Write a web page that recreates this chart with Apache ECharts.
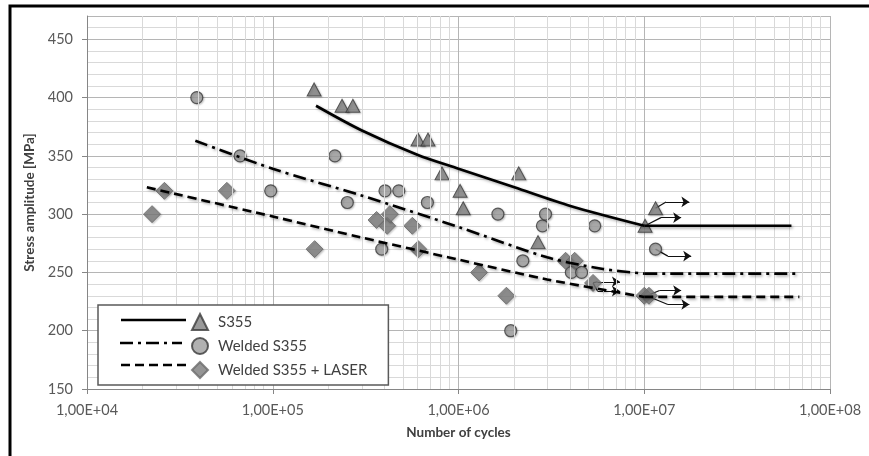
<!DOCTYPE html>
<html><head><meta charset="utf-8">
<script src="https://cdn.jsdelivr.net/npm/echarts@6/dist/echarts.min.js"></script>
<style>html,body{margin:0;padding:0;background:#fff}#c{width:869px;height:456px}</style>
</head><body><div id="c"></div><script>
// ---- data (cycles N, stress amplitude S in MPa) ----
const s355N = [1.67e5, 2.36e5, 2.7e5, 6.05e5, 6.85e5, 8.15e5, 1.02e6, 1.06e6, 2.11e6, 2.68e6, 1.01e7, 1.15e7];
const s355S = [407, 393, 393, 364, 364, 335, 320, 305, 335, 276, 290, 305];

const weldN = [3.9e4, 6.67e4, 9.75e4, 2.16e5, 2.52e5, 3.86e5, 4.02e5, 4.77e5, 6.8e5, 1.63e6, 1.91e6, 2.22e6, 2.83e6, 2.94e6, 4.05e6, 4.6e6, 5.41e6, 1.15e7];
const weldS = [400, 350, 320, 350, 310, 270, 320, 320, 310, 300, 200, 260, 290, 300, 250, 250, 290, 270];

const laserN = [2.24e4, 2.61e4, 5.66e4, 1.68e5, 3.62e5, 4.13e5, 4.27e5, 5.64e5, 6.07e5, 1.29e6, 1.81e6, 3.77e6, 4.22e6, 5.3e6, 1.0e7, 1.06e7];
const laserS = [300, 320, 320, 270, 295, 290, 300, 290, 270, 250, 230, 260, 260, 241, 230, 230];

// fitted curves
const s355FitN = [1.71e5, 3.0e5, 6.0e5, 1.0e6, 2.0e6, 4.0e6, 1.0e7];
const s355FitS = [393, 372, 351, 339, 323, 307, 290];
const s355PlateauN = [1.0e7, 6.2e7];
const s355PlateauS = [290, 290];

const weldFitN = [3.83e4, 1.0e5, 3.0e5, 1.0e6, 3.0e6, 6.0e6, 1.0e7];
const weldFitS = [363, 339, 316, 289, 263, 253, 249];
const weldPlateauN = [1.0e7, 6.56e7];
const weldPlateauS = [249, 249];

const laserFitN = [2.1e4, 1.0e5, 3.0e5, 1.0e6, 3.0e6, 1.0e7];
const laserFitS = [323, 298, 280, 261, 244, 229];
const laserPlateauN = [1.0e7, 6.84e7];
const laserPlateauS = [229, 229];

// run-out arrows: start point, kink point, arrow tip (N, S)
const runFrom = [[1.15e7, 305], [1.01e7, 290], [1.15e7, 270], [1.03e7, 230], [1.03e7, 230], [5.3e6, 241], [5.3e6, 241]];
const runKink = [[1.31e7, 310.5], [1.23e7, 297], [1.34e7, 264], [1.21e7, 234.5], [1.34e7, 222.5], [5.6e6, 242], [5.6e6, 234]];
const runTip  = [[1.75e7, 310.5], [1.58e7, 297], [1.79e7, 264], [1.58e7, 234.5], [1.75e7, 222.5], [7.4e6, 242], [7.4e6, 234]];

const xDecades = [4, 5, 6, 7, 8];
const minorMult = [2, 3, 4, 5, 6, 7, 8, 9];
const seriesNames = ['S355', 'Welded S355', 'Welded S355 + LASER'];

// ---- helpers ----
const L = Math.log10;
const pts = (N, S) => N.map((n, i) => [L(n), S[i]]);
const lp = p => [L(p[0]), p[1]];
const FONT = 'Lato';
const shadow = {shadowColor: 'rgba(0,0,0,0.35)', shadowBlur: 3, shadowOffsetX: 1.5, shadowOffsetY: 1.5};
const mShadow = {shadowColor: 'rgba(0,0,0,0.25)', shadowBlur: 2, shadowOffsetX: 1, shadowOffsetY: 1};

const minorGrid = [];
xDecades.slice(0, -1).forEach(d => minorMult.forEach(k => minorGrid.push({xAxis: L(k * Math.pow(10, d))})));

function fitSeries(N, S, dash, smooth) {
  return {
    type: 'line', data: pts(N, S), showSymbol: false, symbol: 'none', smooth: smooth ? 0.3 : false,
    silent: true, z: 6,
    lineStyle: Object.assign({color: '#000', width: 2.6, type: dash, cap: 'butt'}, shadow)
  };
}
const solid = 'solid', dashDot = [13, 5, 3, 5], dashed = [9, 5];

const chart = echarts.init(document.getElementById('c'), null, {renderer: 'canvas'});
chart.setOption({
  backgroundColor: '#fff',
  animation: false,
  grid: {left: 87, right: 39, top: 16, bottom: 67, containLabel: false},
  xAxis: {
    type: 'value', min: 4, max: 8, interval: 1,
    name: 'Number of cycles', nameLocation: 'middle', nameGap: 37,
    nameTextStyle: {fontFamily: FONT, fontWeight: 'bold', fontSize: 13.5, color: '#404040'},
    axisLine: {show: true, lineStyle: {color: '#868686', width: 1}},
    axisTick: {show: true, length: 5, lineStyle: {color: '#868686'}},
    axisLabel: {fontFamily: FONT, fontSize: 14.5, color: '#595959', margin: 14,
      formatter: v => '1,00E+' + String(Math.round(v)).padStart(2, '0')},
    splitLine: {show: true, lineStyle: {color: '#b5b5b5', width: 1}}
  },
  yAxis: {
    type: 'value', min: 150, max: 470, interval: 50,
    name: 'Stress amplitude [MPa]', nameLocation: 'middle', nameGap: 48,
    nameTextStyle: {fontFamily: FONT, fontWeight: 'bold', fontSize: 13.5, color: '#404040'},
    axisLine: {show: true, lineStyle: {color: '#868686', width: 1}},
    axisTick: {show: true, length: 5, lineStyle: {color: '#868686'}},
    axisLabel: {fontFamily: FONT, fontSize: 14.5, color: '#595959', margin: 14, showMaxLabel: false},
    splitLine: {show: true, lineStyle: {color: '#b5b5b5', width: 1}},
    minorTick: {show: false, splitNumber: 5},
    minorSplitLine: {show: true, lineStyle: {color: '#d9d9d9', width: 1}}
  },
  legend: {
    data: [{name: seriesNames[0], icon: 'triangle'}, {name: seriesNames[1], icon: 'circle'}, {name: seriesNames[2], icon: 'diamond'}],
    orient: 'vertical', left: 98, top: 305, padding: [8, 21, 6, 93],
    itemGap: 6, itemWidth: 16, itemHeight: 16, selectedMode: false,
    backgroundColor: '#fff', borderColor: '#5a5a5a', borderWidth: 1.5, borderRadius: 0,
    textStyle: {fontFamily: FONT, fontSize: 15, color: '#404040', padding: [0, 0, 0, 5]},
    z: 20
  },
  graphic: [
    {type: 'line', z: 100, shape: {x1: 121, y1: 320, x2: 186, y2: 320}, style: {stroke: '#000', lineWidth: 2.6}},
    {type: 'line', z: 100, shape: {x1: 120, y1: 343, x2: 182, y2: 343}, style: {stroke: '#000', lineWidth: 2.6, lineDash: dashDot}},
    {type: 'line', z: 100, shape: {x1: 121, y1: 365, x2: 191, y2: 365}, style: {stroke: '#000', lineWidth: 2.6, lineDash: dashed}},
    {type: 'rect', z: 100, shape: {x: 10, y: 6, width: 900, height: 500}, style: {fill: 'none', stroke: '#000', lineWidth: 3}}
  ],
  series: [
    {type: 'line', data: [[4, 150]], showSymbol: false, symbol: 'none', silent: true, z: 0,
      lineStyle: {width: 0},
      markLine: {silent: true, symbol: 'none', label: {show: false}, animation: false,
        lineStyle: {color: '#d9d9d9', width: 1, type: 'solid'}, data: minorGrid}},
    {type: 'lines', coordinateSystem: 'cartesian2d', silent: true, z: 2, symbol: 'none',
      lineStyle: {color: '#111', width: 1.2, opacity: 1},
      data: runFrom.map((p, i) => ({coords: [lp(p), lp(runKink[i])]}))},
    {type: 'lines', coordinateSystem: 'cartesian2d', silent: true, z: 2, symbol: ['none', 'arrow'], symbolSize: 8,
      lineStyle: {color: '#111', width: 1.2, opacity: 1},
      data: runKink.map((p, i) => ({coords: [lp(p), lp(runTip[i])]}))},
    {name: seriesNames[0], type: 'scatter', data: pts(s355N, s355S), symbol: 'triangle', symbolSize: [14, 13], z: 3,
      itemStyle: Object.assign({color: '#7f7f7f', borderColor: '#3a3a3a', borderWidth: 1}, mShadow)},
    {name: seriesNames[1], type: 'scatter', data: pts(weldN, weldS), symbol: 'circle', symbolSize: 12, z: 3,
      itemStyle: Object.assign({color: '#9d9d9d', borderColor: '#3a3a3a', borderWidth: 1.2}, mShadow)},
    {name: seriesNames[2], type: 'scatter', data: pts(laserN, laserS), symbol: 'diamond', symbolSize: [17, 17], z: 3,
      itemStyle: Object.assign({color: '#7b7b7b', borderColor: '#6a6a6a', borderWidth: 1}, mShadow)},
    fitSeries(s355FitN, s355FitS, solid, true),
    fitSeries(s355PlateauN, s355PlateauS, solid, false),
    fitSeries(weldFitN, weldFitS, dashDot, true),
    fitSeries(weldPlateauN, weldPlateauS, dashDot, false),
    fitSeries(laserFitN, laserFitS, dashed, true),
    fitSeries(laserPlateauN, laserPlateauS, dashed, false)
  ]
});
</script></body></html>
